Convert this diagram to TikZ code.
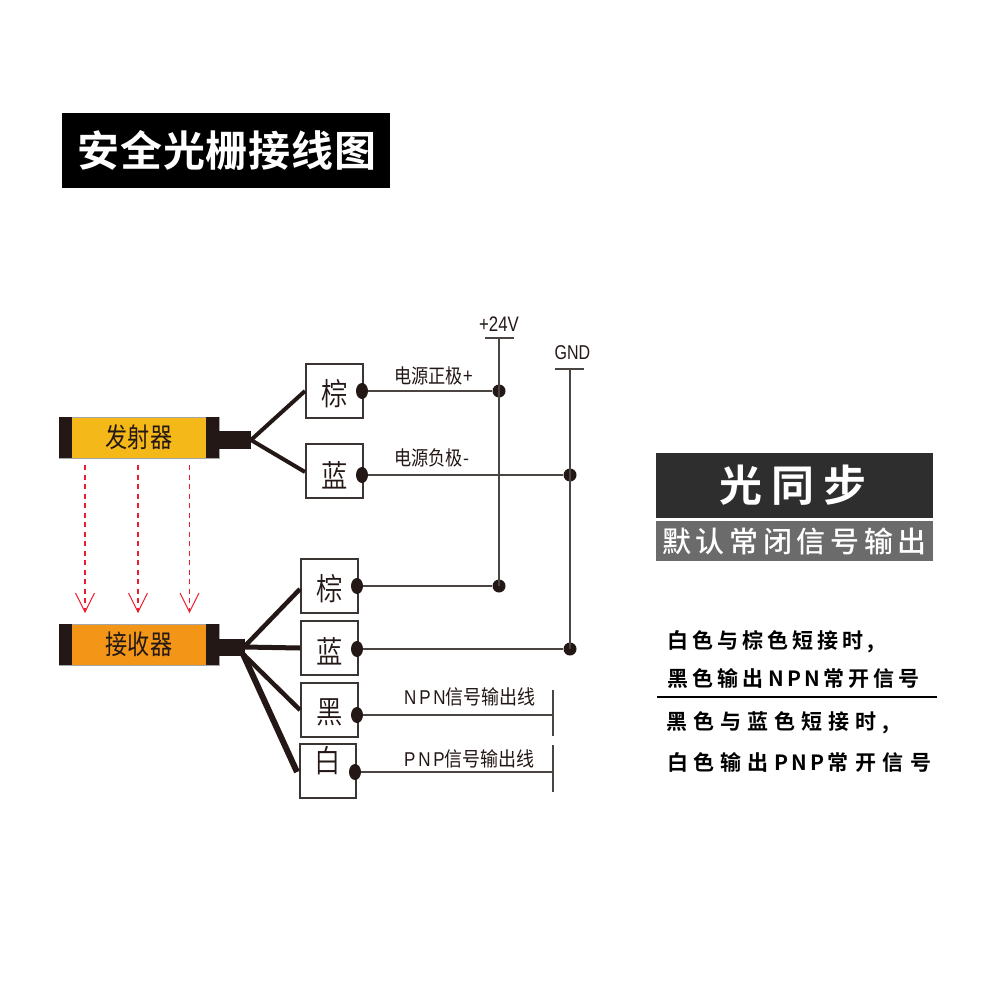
\documentclass[tikz,border=0pt]{standalone}
\usepackage{fontspec}
\setmainfont{Liberation Sans}
\newfontfamily\cjk{Noto Sans CJK SC}
\newfontfamily\cjks{Noto Sans CJK SC}[FakeStretch=0.82]
\newfontfamily\cjkt{Noto Sans CJK SC DemiLight}[FakeStretch=0.85]
\newfontfamily\cjkn{Noto Sans CJK SC}[FakeStretch=0.9]
\newfontfamily\cjknn{Noto Sans CJK SC}[FakeStretch=0.86]
\newfontfamily\latn{Liberation Sans}[FakeStretch=0.8]
\newfontfamily\latw{Liberation Sans}[FakeStretch=0.85,LetterSpace=14]
\newfontfamily\cjkbTitle{Noto Sans CJK SC Bold}[LetterSpace=2]
\newfontfamily\cjkbBig{Noto Sans CJK SC Bold}[LetterSpace=22]
\newfontfamily\cjkbSub{Noto Sans CJK SC Medium}[LetterSpace=16]
\newfontfamily\noteA{Noto Sans CJK SC Bold}[LetterSpace=19]
\newfontfamily\noteB{Noto Sans CJK SC Bold}[LetterSpace=29]
\newfontfamily\noteC{Noto Sans CJK SC Bold}[LetterSpace=27]
\newfontfamily\noteD{Noto Sans CJK SC Bold}[LetterSpace=31]
\newfontfamily\noteL{Noto Sans CJK SC Bold}[LetterSpace=16]
\usetikzlibrary{shapes.geometric}
\definecolor{ink}{HTML}{231815}
\definecolor{wire}{HTML}{4A4442}
\definecolor{boxline}{HTML}{3A3432}
\definecolor{amber}{HTML}{F4B919}
\definecolor{orng}{HTML}{F39617}
\definecolor{rayred}{HTML}{EE1C2E}
\newcommand{\glyphdown}[2]{\smash{\raisebox{-#1pt}{#2}}}
\tikzset{
  x=1pt,y=-1pt,
  term/.style={draw=boxline,line width=2pt,fill=white,inner sep=0pt,minimum width=#1,minimum height=54pt,text=ink,font=\cjkt\fontsize{31}{31}\selectfont},
  term/.default=56pt,
  junc/.style={ellipse,fill=ink,inner sep=0pt,minimum width=12pt,minimum height=16pt},
  dotj/.style={circle,fill=ink,inner sep=0pt,minimum size=13pt},
  thin wire/.style={draw=wire,line width=1.3pt},
  cable/.style={draw=ink,line cap=butt},
  sensor/.style={draw=gray!70,line width=.6pt,inner sep=0pt,minimum width=160pt,minimum height=41pt},
  sensortext/.style={text=ink,inner sep=0pt,font=\cjks\fontsize{27}{27}\selectfont},
  endcap/.style={fill=ink},
  ray/.style={draw=rayred,line width=1.4pt,dash pattern=on 5pt off 4.5pt},
  rayhead/.style={draw=rayred,line width=1.1pt},
  lab/.style={text=ink,inner sep=0pt,font=\cjkn\fontsize{20}{20}\selectfont},
  note/.style={text=black,inner sep=0pt,anchor=west,font=\fontsize{21}{21}\selectfont},
}
\begin{document}
\begin{tikzpicture}
\useasboundingbox (0,0) rectangle (1000,1000);
\fill[white] (0,0) rectangle (1000,1000);
% title
\node[fill=black,minimum width=328pt,minimum height=75pt,inner sep=0pt,text=white,font=\cjkbTitle\fontsize{42}{42}\selectfont] (title) at (226,150.5) {\hspace{2pt}安全光栅接线图};
% sensors
\node[sensor,fill=amber] (tx) at (139,437.5) {};
\fill[endcap] (59,417) rectangle (72,458);
\fill[endcap] (206,417) rectangle (219,458);
\node[sensortext] (txl) at (139,437.5) {发射器};
\node[sensor,fill=orng] (rx) at (139,644.5) {};
\fill[endcap] (59,624) rectangle (72,665);
\fill[endcap] (206,624) rectangle (219,665);
\node[sensortext] (rxl) at (139,644.5) {接收器};
% cables
\node[fill=ink,inner sep=0pt,minimum width=32pt,minimum height=18pt] (txc) at (235,440) {};
\node[fill=ink,inner sep=0pt,minimum width=26pt,minimum height=17pt] (rxc) at (232,647.5) {};
% terminals
\node[term=57pt] (b1) at (334.5,391) {\glyphdown{14}{棕}};
\node[term=57pt] (u1) at (334.5,471) {\glyphdown{16}{蓝}};
\node[term=57pt] (b2) at (329.5,586) {\glyphdown{14}{棕}};
\node[term=57pt] (u2) at (329.5,647.5) {\glyphdown{15.5}{蓝}};
\node[term=57pt] (k2) at (329.5,710) {\glyphdown{13}{黑}};
\node[term=56pt] (w2) at (328,770.5) {\glyphdown{1.5}{白}};
% wires to terminals
\coordinate (txo) at (251,440);
\coordinate (rxo) at (244,647);
\coordinate (rxo2) at (243,654);
\draw[cable,line width=4pt] (txo) -- (b1.west);
\draw[cable,line width=4pt] (txo) -- ([yshift=-1pt]u1.west);
\draw[cable,line width=4.5pt] (rxo) -- ([yshift=-3pt]b2.west);
\draw[cable,line width=5pt] (rxo) -- ([yshift=-0.5pt]u2.west);
\draw[cable,line width=4.5pt] (rxo2) -- (k2.west);
\draw[cable,line width=6pt] (rxo2) -- (297,772);
% rays
\foreach \n/\x in {a/85,b/138,c/189.5}{
  \coordinate (t\n) at (\x,465);
  \coordinate (h\n) at (\x,612);
  \draw[ray] (t\n) -- (h\n);
  \draw[rayhead] (\x-9.5,593) -- (h\n) -- (\x+9.5,593);
}
% junctions
\node[junc] (jb1) at (362,391) {};
\node[junc] (ju1) at (362,475) {};
\node[junc] (jb2) at (357,586) {};
\node[junc] (ju2) at (357,649) {};
\node[junc] (jk2) at (357,715) {};
\node[junc] (jw2) at (355,772) {};
\node[dotj] (p1) at (499,391) {};
\node[dotj] (p2) at (499,586) {};
\node[dotj] (g1) at (570,475) {};
\node[dotj] (g2) at (570,649) {};
% rails
\coordinate (ptop) at (499,338);
\coordinate (gtop) at (570,369);
\coordinate (pl) at (485,338); \coordinate (pr) at (514,338);
\coordinate (gl) at (555,369); \coordinate (gr) at (584,369);
\draw[thin wire] (pl) -- (pr);
\draw[thin wire] (gl) -- (gr);
\draw[thin wire] (ptop) -- (p2.center);
\draw[thin wire] (gtop) -- (g2.center);
\draw[thin wire] (jb1) -- (p1);
\draw[thin wire] (ju1) -- (g1);
\draw[thin wire] (jb2) -- (p2);
\draw[thin wire] (ju2) -- (g2);
\coordinate (nt) at (553,690); \coordinate (nb) at (553,736); \coordinate (nm) at (553,715);
\coordinate (pt) at (553,745); \coordinate (pb) at (553,792); \coordinate (pm) at (553,772);
\draw[thin wire] (jk2) -- (nm);
\draw[thin wire] (jw2) -- (pm);
\draw[thin wire] (nt) -- (nb);
\draw[thin wire] (pt) -- (pb);
% labels
\node[lab,font=\latn\fontsize{21}{21}\selectfont] (v24) at (499,324) {+24V};
\node[lab,font=\latn\fontsize{20}{20}\selectfont] (gnd) at (572.5,353) {GND};
\node[lab,anchor=west,font=\cjknn\fontsize{20}{20}\selectfont] (l1) at (394,376) {电源正极+};
\node[lab,anchor=west,font=\cjknn\fontsize{20}{20}\selectfont] (l2) at (394,458) {电源负极-};
\node[lab,anchor=west] (l3) at (404,697) {{\latw\fontsize{20}{20}\selectfont NPN}信号输出线};
\node[lab,anchor=west] (l4) at (404,759) {{\latw\fontsize{20}{20}\selectfont PNP}信号输出线};
% right panel
\node[fill=black!82,minimum width=277pt,minimum height=65pt,inner sep=0pt,text=white,font=\cjkbBig\fontsize{43}{43}\selectfont] (sync) at (794.5,485.5) {\hspace{-3pt}光同步};
\node[fill=black!58,minimum width=277pt,minimum height=40pt,inner sep=0pt,text=white,font=\cjkbSub\fontsize{29}{29}\selectfont] (sub) at (794.5,541) {默认常闭信号输出};
\node[note] (n1) at (667,642) {\noteA 白色与棕色短接时,};
\node[note] (n2) at (667,678) {\noteA 黑色输出\hspace{5pt}{\noteL NPN}\hspace{3pt}常开信号};
\coordinate (sl) at (657,697); \coordinate (sr) at (937,697);
\draw[black,line width=2.6pt] (sl) -- (sr);
\node[note] (n3) at (666,723) {\noteB 黑色与蓝色短接时,};
\node[note] (n4) at (667,762) {\noteC 白色输出\hspace{6pt}{\noteL PNP}\hspace{3pt}{\noteD 常开信号}};
\end{tikzpicture}
\end{document}
